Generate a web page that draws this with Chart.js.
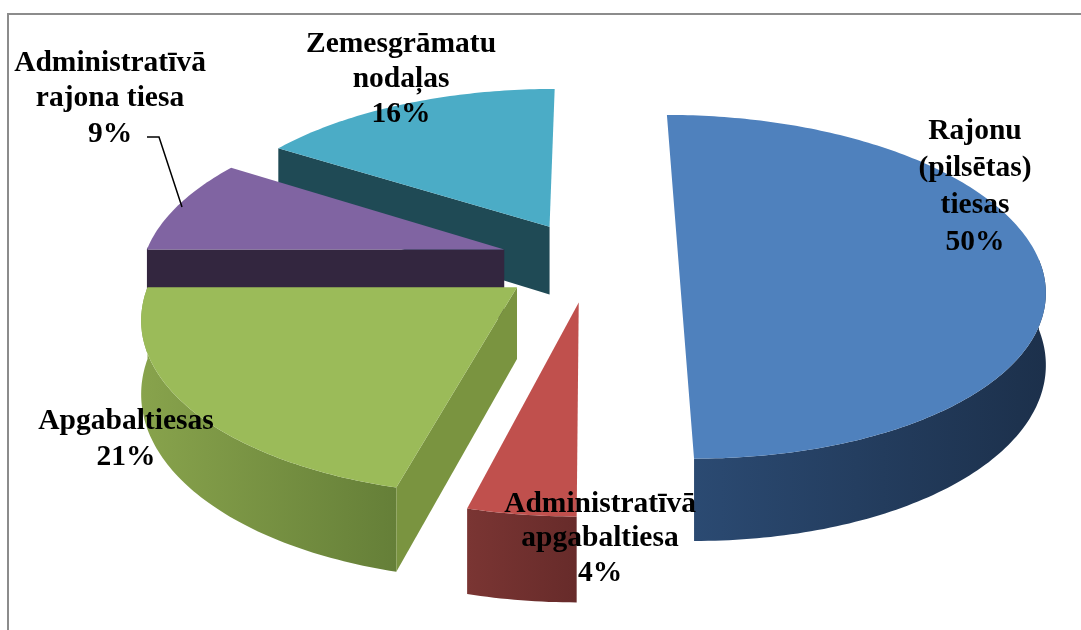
<!DOCTYPE html>
<html><head><meta charset="utf-8">
<style>html,body{margin:0;padding:0;background:#fff}canvas{display:block}</style>
<script src="https://cdn.jsdelivr.net/npm/chart.js@4"></script>
</head><body><canvas id="c" width="1081" height="630"></canvas>
<script>
const categories = ['Rajonu\n(pilsētas)\ntiesas','Administratīvā\napgabaltiesa','Apgabaltiesas','Administratīvā\nrajona tiesa','Zemesgrāmatu\nnodaļas'];
const shares = [50,4,21,9,16];
const topColors = ['#4f81bd','#c0504d','#9bbb59','#8064a2','#4bacc6'];
const wallStops = [['#2b4a72','#1c304b'],['#7a3533','#672b2a'],['#88a34c','#657f38'],['#33263f','#33263f'],['#1f4a55','#1f4a55']];
const faceColors = ['#1f3350','#6a2b2a','#7a9440','#33263f','#1f4a55'];
const explode = [0.245,0.24,0.25,0.25,0.24];
const drawOrder = [4,3,0,2,1];
const labelCenters = [[975,131],[600,504],[126,421],[110,63],[401,44]];
const labelGaps = [37,34.5,36,35.5,35];
const view = {cx:590,cy:261,rx:361,ry:168,k:0.15,depth:70};

function project(u,v,z){
  const w = 1 - view.k*v;
  return [view.cx + view.rx*u/w, view.cy + view.ry*v/w + z*view.depth/w];
}
const pie3d = {
  id:'pie3d',
  beforeDatasetsDraw(chart){
    const ctx = chart.ctx, arcs = chart.getDatasetMeta(0).data;
    const pt=(a,o,z)=>project(Math.cos(a)+o[0],Math.sin(a)+o[1],z);
    for(const i of drawOrder){
      const arc=arcs[i], p=arc.getProps(['startAngle','endAngle','outerRadius']);
      const a0=p.startAngle,a1=p.endAngle,mid=(a0+a1)/2;
      const d=explode[i], o=[Math.cos(mid)*d,Math.sin(mid)*d];
      const apex=z=>project(o[0],o[1],z);
      const n=Math.max(12,Math.ceil((a1-a0)*60));
      const circle=[];
      for(let j=0;j<=n;j++) circle.push(a0+(a1-a0)*j/n);
      // outer wall, only the part that faces the viewer
      const front=circle.filter(a=>Math.sin(a)>-0.02);
      if(front.length>1){
        const t=front.map(a=>pt(a,o,0)), b=front.map(a=>pt(a,o,1));
        const xs=t.map(q=>q[0]);
        const g=ctx.createLinearGradient(Math.min(...xs),0,Math.max(...xs),0);
        g.addColorStop(0,wallStops[i][0]);g.addColorStop(1,wallStops[i][1]);
        ctx.fillStyle=g;ctx.beginPath();
        t.forEach((q,j)=>j?ctx.lineTo(q[0],q[1]):ctx.moveTo(q[0],q[1]));
        b.reverse().forEach(q=>ctx.lineTo(q[0],q[1]));
        ctx.closePath();ctx.fill();
      }
      // cut face at the start edge, when it looks down towards the viewer
      if(Math.cos(a0)<-0.05){
        const A=apex(0),B=pt(a0,o,0),C=pt(a0,o,1),D=apex(1);
        ctx.fillStyle=faceColors[i];ctx.beginPath();
        ctx.moveTo(A[0],A[1]);ctx.lineTo(B[0],B[1]);ctx.lineTo(C[0],C[1]);ctx.lineTo(D[0],D[1]);
        ctx.closePath();ctx.fill();
      }
      // top surface
      ctx.fillStyle=topColors[i];ctx.beginPath();
      const A=apex(0);ctx.moveTo(A[0],A[1]);
      circle.forEach(a=>{const q=pt(a,o,0);ctx.lineTo(q[0],q[1]);});
      ctx.closePath();ctx.fill();
    }
    return false;
  },
  afterDraw(chart){
    const ctx=chart.ctx;
    // frame
    ctx.strokeStyle='#8c8c8c';ctx.lineWidth=2;ctx.beginPath();
    ctx.moveTo(8,630);ctx.lineTo(8,14);ctx.lineTo(1081,14);ctx.stroke();
    // leader line
    ctx.strokeStyle='#000';ctx.lineWidth=1.5;ctx.beginPath();
    ctx.moveTo(147,137);ctx.lineTo(159,137);ctx.lineTo(182,207);ctx.stroke();
    // labels
    ctx.fillStyle='#000';ctx.textAlign='center';ctx.textBaseline='middle';
    ctx.font='bold 29.5px "Liberation Serif"';
    categories.forEach((name,i)=>{
      const lines=[...name.split('\n'),shares[i]+'%'];
      lines.forEach((l,j)=>ctx.fillText(l,labelCenters[i][0],labelCenters[i][1]+j*labelGaps[i]));
    });
  }
};
new Chart(document.getElementById('c'),{
  type:'pie',
  data:{labels:categories,datasets:[{data:shares,backgroundColor:topColors,borderWidth:0}]},
  options:{responsive:false,animation:false,rotation:0,
    plugins:{legend:{display:false},tooltip:{enabled:false}},events:[]},
  plugins:[pie3d]
});
</script></body></html>
